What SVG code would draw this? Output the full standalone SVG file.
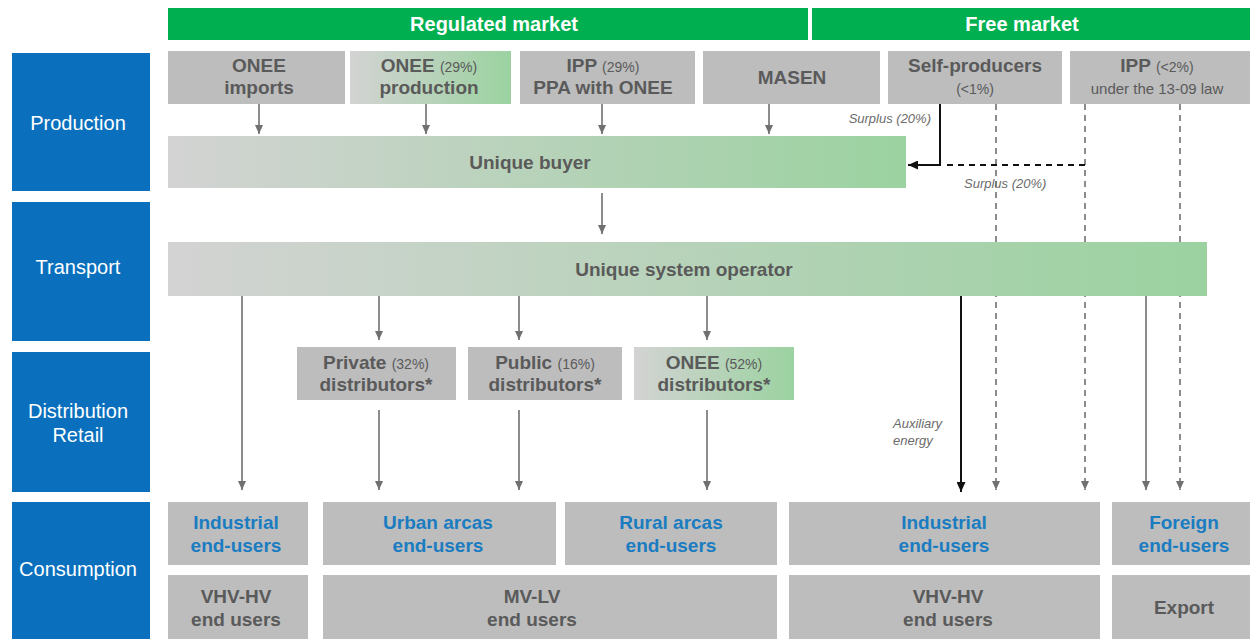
<svg xmlns="http://www.w3.org/2000/svg" width="1250" height="639" viewBox="0 0 1250 639">
<style>
.hdr{fill:#00b050}
.lane{fill:#0a70bd}
.lanet{font-family:"Liberation Sans",Arial,sans-serif;font-size:20px;fill:#fff;text-anchor:middle}
.hdrt{font-family:"Liberation Sans",Arial,sans-serif;font-size:20px;font-weight:bold;fill:#fff;text-anchor:middle}
.box{fill:#bdbdbe}
.t{font-family:"Liberation Sans",Arial,sans-serif;font-size:19px;font-weight:bold;fill:#5a5a5a;text-anchor:middle}
.tb{font-family:"Liberation Sans",Arial,sans-serif;font-size:19px;font-weight:bold;fill:#1a7cc1;text-anchor:middle}
.s{font-size:14px;font-weight:normal}
.it{font-family:"Liberation Sans",Arial,sans-serif;font-size:13px;font-style:italic;fill:#6b6b6b}
.ln{stroke:#707070;stroke-width:1.6;fill:none}
.dk{stroke:#111;stroke-width:2;fill:none}
.ds{stroke:#707070;stroke-width:1.6;fill:none;stroke-dasharray:6 5}
.dsk{stroke:#111;stroke-width:2;fill:none;stroke-dasharray:6 5}
</style>
<defs>
<linearGradient id="g1" x1="0" y1="0" x2="1" y2="0">
<stop offset="0" stop-color="#d3d3d3"/>
<stop offset="1" stop-color="#9bd2a0"/>
</linearGradient>
<marker id="ag" markerWidth="10" markerHeight="8" refX="9" refY="4" orient="auto" markerUnits="userSpaceOnUse">
<path d="M0,0 L9,4 L0,8 Z" fill="#707070"/>
</marker>
<marker id="ak" markerWidth="11" markerHeight="9" refX="10" refY="4.5" orient="auto" markerUnits="userSpaceOnUse">
<path d="M0,0 L10,4.5 L0,9 Z" fill="#111"/>
</marker>
</defs>
<rect width="1250" height="639" fill="#fff"/>

<g id="headers">
<rect class="hdr" x="168" y="8" width="640" height="32"/>
<text class="hdrt" x="494" y="31">Regulated market</text>
<rect class="hdr" x="812" y="8" width="438" height="32"/>
<text class="hdrt" x="1022" y="31">Free market</text>
</g>

<g id="lanes">
<rect class="lane" x="12" y="53" width="138" height="138"/>
<text class="lanet" x="78" y="130">Production</text>
<rect class="lane" x="12" y="202" width="138" height="139"/>
<text class="lanet" x="78" y="274">Transport</text>
<rect class="lane" x="12" y="352" width="138" height="140"/>
<text class="lanet" x="78" y="418">Distribution</text>
<text class="lanet" x="78" y="442">Retail</text>
<rect class="lane" x="12" y="502" width="138" height="137"/>
<text class="lanet" x="78" y="576">Consumption</text>
</g>

<g id="connectors">
<line class="ds" x1="996" y1="104" x2="996" y2="490" marker-end="url(#ag)"/>
<line class="ds" x1="1085" y1="104" x2="1085" y2="490" marker-end="url(#ag)"/>
<line class="ds" x1="1180" y1="104" x2="1180" y2="490" marker-end="url(#ag)"/>
<line class="ln" x1="259" y1="104" x2="259" y2="134" marker-end="url(#ag)"/>
<line class="ln" x1="426" y1="104" x2="426" y2="134" marker-end="url(#ag)"/>
<line class="ln" x1="602" y1="104" x2="602" y2="134" marker-end="url(#ag)"/>
<line class="ln" x1="769" y1="104" x2="769" y2="134" marker-end="url(#ag)"/>
<line class="ln" x1="602" y1="193" x2="602" y2="234" marker-end="url(#ag)"/>
<polyline class="dk" points="940,104 940,165 908,165" marker-end="url(#ak)"/>
<line class="dsk" x1="1085" y1="165" x2="942" y2="165"/>
<line class="ln" x1="242" y1="296" x2="242" y2="490" marker-end="url(#ag)"/>
<line class="ln" x1="379" y1="296" x2="379" y2="340" marker-end="url(#ag)"/>
<line class="ln" x1="519" y1="296" x2="519" y2="340" marker-end="url(#ag)"/>
<line class="ln" x1="707" y1="296" x2="707" y2="340" marker-end="url(#ag)"/>
<line class="ln" x1="379" y1="410" x2="379" y2="490" marker-end="url(#ag)"/>
<line class="ln" x1="519" y1="410" x2="519" y2="490" marker-end="url(#ag)"/>
<line class="ln" x1="707" y1="410" x2="707" y2="490" marker-end="url(#ag)"/>
<line class="dk" x1="961" y1="296" x2="961" y2="492" marker-end="url(#ak)"/>
<line class="ln" x1="1146" y1="296" x2="1146" y2="490" marker-end="url(#ag)"/>
<text class="it" x="931" y="123" text-anchor="end">Surplus (20%)</text>
<text class="it" x="964" y="188">Surplus (20%)</text>
<text class="it" x="893" y="428">Auxiliary</text>
<text class="it" x="893" y="445">energy</text>
</g>

<g id="n-onee-imports"><rect class="box" x="168" y="51" width="177" height="53"/><text class="t" x="259" y="72">ONEE</text><text class="t" x="259" y="94">imports</text></g>
<g id="n-onee-prod"><rect fill="url(#g1)" x="350" y="51" width="161" height="53"/><text class="t" x="429" y="72">ONEE <tspan class="s">(29%)</tspan></text><text class="t" x="429" y="94">production</text></g>
<g id="n-ipp"><rect class="box" x="520" y="51" width="175" height="53"/><text class="t" x="603" y="72">IPP <tspan class="s">(29%)</tspan></text><text class="t" x="603" y="94">PPA with ONEE</text></g>
<g id="n-masen"><rect class="box" x="703" y="51" width="177" height="53"/><text class="t" x="792" y="84">MASEN</text></g>
<g id="n-self"><rect class="box" x="888" y="51" width="174" height="53"/><text class="t" x="975" y="72">Self-producers</text><text class="t s" x="975" y="94">(&lt;1%)</text></g>
<g id="n-ipp2"><rect class="box" x="1070" y="51" width="180" height="53"/><text class="t" x="1157" y="72">IPP <tspan class="s">(&lt;2%)</tspan></text><text class="t" x="1157" y="94" style="font-size:15px;font-weight:normal">under the 13-09 law</text></g>

<g id="n-buyer"><rect fill="url(#g1)" x="168" y="136" width="738" height="52"/><text class="t" x="530" y="169">Unique buyer</text></g>
<g id="n-uso"><rect fill="url(#g1)" x="168" y="242" width="1039" height="54"/><text class="t" x="684" y="276">Unique system operator</text></g>

<g id="n-private"><rect class="box" x="297" y="347" width="159" height="53"/><text class="t" x="376" y="369">Private <tspan class="s">(32%)</tspan></text><text class="t" x="376" y="391">distributors*</text></g>
<g id="n-public"><rect class="box" x="468" y="347" width="154" height="53"/><text class="t" x="545" y="369">Public <tspan class="s">(16%)</tspan></text><text class="t" x="545" y="391">distributors*</text></g>
<g id="n-onee-dist"><rect fill="url(#g1)" x="634" y="347" width="160" height="53"/><text class="t" x="714" y="369">ONEE <tspan class="s">(52%)</tspan></text><text class="t" x="714" y="391">distributors*</text></g>

<g id="n-ind1"><rect class="box" x="168" y="502" width="140" height="63"/><text class="tb" x="236" y="529">Industrial</text><text class="tb" x="236" y="552">end-users</text></g>
<g id="n-urban"><rect class="box" x="323" y="502" width="233" height="63"/><text class="tb" x="438" y="529">Urban arcas</text><text class="tb" x="438" y="552">end-users</text></g>
<g id="n-rural"><rect class="box" x="565" y="502" width="212" height="63"/><text class="tb" x="671" y="529">Rural arcas</text><text class="tb" x="671" y="552">end-users</text></g>
<g id="n-ind2"><rect class="box" x="789" y="502" width="311" height="63"/><text class="tb" x="944" y="529">Industrial</text><text class="tb" x="944" y="552">end-users</text></g>
<g id="n-foreign"><rect class="box" x="1112" y="502" width="138" height="63"/><text class="tb" x="1184" y="529">Foreign</text><text class="tb" x="1184" y="552">end-users</text></g>

<g id="n-vhv1"><rect class="box" x="168" y="575" width="140" height="64"/><text class="t" x="236" y="603">VHV-HV</text><text class="t" x="236" y="626">end users</text></g>
<g id="n-mvlv"><rect class="box" x="323" y="575" width="454" height="64"/><text class="t" x="532" y="603">MV-LV</text><text class="t" x="532" y="626">end users</text></g>
<g id="n-vhv2"><rect class="box" x="789" y="575" width="311" height="64"/><text class="t" x="948" y="603">VHV-HV</text><text class="t" x="948" y="626">end users</text></g>
<g id="n-export"><rect class="box" x="1112" y="575" width="138" height="64"/><text class="t" x="1184" y="614">Export</text></g>
</svg>
